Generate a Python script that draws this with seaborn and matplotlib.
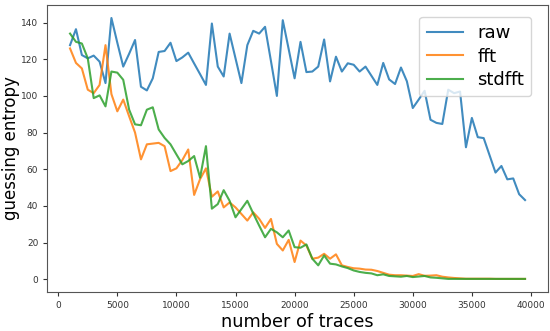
import numpy as np
import pandas as pd
import matplotlib
matplotlib.use("Agg")
import matplotlib.pyplot as plt
import seaborn as sns

# number of traces: 1000 .. 39500, step 500
traces = list(range(1000, 40000, 500))

raw = [127.7, 136.4, 122.3, 120.5, 122, 118.7, 107, 142.5, 129, 116,
       123, 130.5, 105, 103, 109.6, 124, 124.5, 129, 119, 121,
       123.6, 117.7, 111.9, 106, 139.5, 116, 110.6, 134, 120.5, 107,
       127.7, 135.5, 134, 137.7, 119, 100, 141.3, 125.5, 109.6, 129.5,
       113, 113.3, 116, 130.8, 107.9, 121.4, 113.3, 117.8, 117, 113.3,
       116, 111, 106, 118, 109, 106.5, 115.5, 108, 93.4, 98,
       102.8, 87, 85.3, 84.7, 103.4, 101.5, 102.4, 72, 88, 77.5,
       77, 67.6, 58.2, 61.8, 54.5, 55, 46.4, 43.2]

fft = [125.9, 118, 115, 103.4, 101.5, 106, 127.7, 101, 91.6, 98,
       88.9, 80, 65.4, 73.6, 74, 74.4, 72.6, 59, 60.5, 65,
       70.8, 46, 54.6, 60.5, 45, 47.9, 39.2, 41.9, 39.2, 35.6,
       32, 36.5, 33, 28, 32.9, 19.3, 15.7, 21.5, 9.4, 21.1,
       18.4, 11.2, 11.8, 13.9, 11.2, 13.6, 7.6, 6.7, 6, 5.8,
       5.3, 5.2, 4.5, 3.5, 2.5, 2.2, 2.2, 2, 1.8, 2.8,
       1.9, 2, 2.2, 1.4, 1, 0.7, 0.5, 0.3, 0.3, 0.3,
       0.3, 0.3, 0.2, 0.2, 0.2, 0.2, 0.2, 0.2]

stdfft = [134, 129.5, 128.6, 120.5, 98.8, 100.3, 94.3, 113.3, 112.7, 108.8,
          92.5, 84.5, 84, 92.5, 93.8, 81.7, 77.1, 73.6, 68.1, 62.7,
          64.5, 67.2, 55.4, 72.6, 38.5, 41, 48.6, 42.8, 33.8, 38.3,
          42.8, 35.9, 29.3, 22.9, 27.5, 25.6, 22.9, 26.6, 17.5, 17.2,
          19, 11.2, 7.6, 13, 8.5, 8.1, 7, 6.1, 4.8, 4,
          3.5, 3.2, 2.2, 2.7, 1.8, 1.6, 1.4, 1.8, 1.2, 1.5,
          1.8, 1, 0.8, 0.5, 0.2, 0.2, 0.2, 0.2, 0.2, 0.2,
          0.2, 0.2, 0.2, 0.2, 0.2, 0.2, 0.2, 0.2]

series_names = ["raw", "fft", "stdfft"]

df = pd.DataFrame({
    "traces": traces * 3,
    "ge": raw + fft + stdfft,
    "method": [n for n, s in zip(series_names, [raw, fft, stdfft]) for _ in s],
})

fig = plt.figure(figsize=(5.5, 3.31), dpi=100)
ax = fig.add_axes([0.086, 0.118, 0.91, 0.867])

palette = dict(zip(series_names, ["#1f77b4", "#ff7f0e", "#2ca02c"]))
sns.lineplot(data=df, x="traces", y="ge", hue="method", palette=palette,
             linewidth=1.5, alpha=0.85, ax=ax, legend=False)

ax.set_xticks(range(0, 40001, 5000))
ax.set_yticks(range(0, 141, 20))
ax.tick_params(labelsize=6.5, length=3, colors="#333333")
for sp in ax.spines.values():
    sp.set_color("#555555")

ax.set_xlabel("number of traces", fontsize=12.7, labelpad=2)
ax.set_ylabel("guessing entropy", fontsize=12, labelpad=1)

handles = [plt.Line2D([], [], color=palette[n], lw=1.5, alpha=0.85) for n in series_names]
ax.legend(handles, series_names, loc="upper right", fontsize=13,
          handlelength=2.0, borderpad=0.4, labelspacing=0.3,
          bbox_to_anchor=(0.985, 0.99))

fig.savefig("out.png", dpi=100)
